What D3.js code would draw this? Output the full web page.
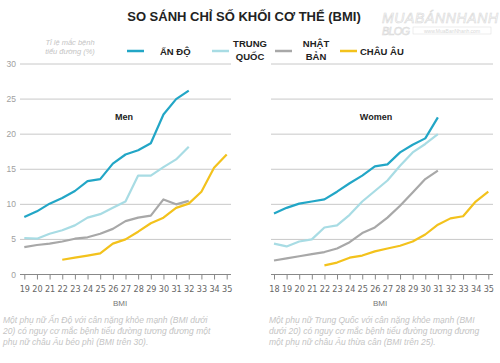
<!DOCTYPE html>
<html>
<head>
<meta charset="utf-8">
<script src="https://cdn.jsdelivr.net/npm/d3@7"></script>
<style>
  body { margin: 0; background: #fff; }
  svg { display: block; }
  text { font-family: "Liberation Sans", Arial, sans-serif; }
  .tick text { font-family: "Liberation Sans Narrow", "DejaVu Sans Condensed", "Liberation Sans", sans-serif; }
</style>
</head>
<body>
<div id="chart"></div>
<script>
// BMI tren truc x, ti le mac benh tieu duong (%) tren truc y
const menBmi = [19, 20, 21, 22, 23, 24, 25, 26, 27, 28, 29, 30, 31, 32, 33, 34, 35];
const menIndia = [8.2, 9.0, 10.1, 10.9, 11.9, 13.3, 13.6, 15.8, 17.1, 17.7, 18.7, 22.8, 25.0, 26.2];
const menChina = [5.2, 5.1, 5.8, 6.3, 7.0, 8.1, 8.6, 9.5, 10.4, 14.1, 14.1, 15.3, 16.4, 18.2];
const menJapan = [3.9, 4.2, 4.4, 4.7, 5.1, 5.3, 5.8, 6.5, 7.6, 8.1, 8.4, 10.7, 10.0, 10.5];
const menEurope = [null, null, null, 2.1, 2.4, 2.7, 3.0, 4.4, 5.0, 6.1, 7.3, 8.1, 9.5, 10.1, 11.8, 15.2, 17.1];

const womenBmi = [18, 19, 20, 21, 22, 23, 24, 25, 26, 27, 28, 29, 30, 31, 32, 33, 34, 35];
const womenIndia = [8.7, 9.5, 10.1, 10.4, 10.7, 11.8, 13.0, 14.1, 15.4, 15.7, 17.4, 18.5, 19.4, 22.4];
const womenChina = [4.4, 4.0, 4.7, 5.0, 6.7, 7.0, 8.5, 10.4, 11.9, 13.4, 15.5, 17.4, 18.6, 20.0];
const womenJapan = [2.0, 2.3, 2.6, 2.9, 3.2, 3.7, 4.6, 5.9, 6.7, 8.1, 9.8, 11.7, 13.6, 14.8];
const womenEurope = [null, null, null, null, 1.3, 1.7, 2.4, 2.7, 3.3, 3.7, 4.1, 4.7, 5.7, 7.1, 8.0, 8.3, 10.4, 11.8];

const seriesNames = ["ẤN ĐỘ", "TRUNG QUỐC", "NHẬT BẢN", "CHÂU ÂU"];
const seriesColors = ["#22a6c6", "#a8dce4", "#a8a8a8", "#f3c21c"];
const yTicks = [0, 5, 10, 15, 20, 25, 30];

const width = 500, height = 363;
const svg = d3.select("#chart").append("svg")
    .attr("width", width)
    .attr("height", height);

const y = d3.scaleLinear().domain([0, 30]).range([274.5, 64]);

// tieu de
svg.append("text")
    .attr("x", 244).attr("y", 21)
    .attr("text-anchor", "middle")
    .attr("font-size", "13px")
    .attr("font-weight", "bold")
    .attr("fill", "#222")
    .text("SO SÁNH CHỈ SỐ KHỐI CƠ THỂ (BMI)");

// watermark
svg.append("text")
    .attr("x", 382).attr("y", 23)
    .attr("font-size", "14px")
    .attr("font-style", "italic")
    .attr("textLength", 116)
    .attr("fill", "none")
    .attr("stroke", "#d8d8d8")
    .attr("stroke-width", 0.6)
    .text("MUABÁNNHANH");
svg.append("text")
    .attr("x", 382).attr("y", 35)
    .attr("font-size", "11px")
    .attr("font-style", "italic")
    .attr("textLength", 28)
    .attr("fill", "none")
    .attr("stroke", "#d8d8d8")
    .attr("stroke-width", 0.6)
    .text("BLOG");
svg.append("rect")
    .attr("x", 413).attr("y", 27).attr("width", 78).attr("height", 7)
    .attr("fill", "none").attr("stroke", "#e0e0e0").attr("stroke-width", 0.6);
svg.append("text")
    .attr("x", 452).attr("y", 33)
    .attr("text-anchor", "middle")
    .attr("font-size", "5px")
    .attr("fill", "#d8d8d8")
    .text("www.MuaBanNhanh.com");

// nhan truc y
svg.append("text")
    .attr("x", 70).attr("y", 45)
    .attr("text-anchor", "middle")
    .attr("font-size", "7.5px")
    .attr("font-style", "italic")
    .attr("fill", "#c4c4c4")
    .text("Tỉ lệ mắc bệnh");
svg.append("text")
    .attr("x", 70).attr("y", 54)
    .attr("text-anchor", "middle")
    .attr("font-size", "7.5px")
    .attr("font-style", "italic")
    .attr("fill", "#c4c4c4")
    .text("tiểu đường (%)");

// chu giai
const legendItems = [
    { x: 127, tx: 160, anchor: "start", lines: ["ẤN ĐỘ"] },
    { x: 212, tx: 250, anchor: "middle", lines: ["TRUNG", "QUỐC"] },
    { x: 275, tx: 316, anchor: "middle", lines: ["NHẬT", "BẢN"] },
    { x: 340, tx: 360, anchor: "start", lines: ["CHÂU ÂU"] }
];
legendItems.forEach((d, i) => {
    svg.append("line")
        .attr("x1", d.x).attr("x2", d.x + 17)
        .attr("y1", 51).attr("y2", 51)
        .attr("stroke", seriesColors[i])
        .attr("stroke-width", 2.5);
    const t = svg.append("text")
        .attr("text-anchor", d.anchor)
        .attr("font-size", "9.5px")
        .attr("font-weight", "bold")
        .attr("fill", "#222");
    if (d.lines.length === 1) {
        t.append("tspan").attr("x", d.tx).attr("y", 55).text(d.lines[0]);
    } else {
        t.append("tspan").attr("x", d.tx).attr("y", 47).text(d.lines[0]);
        t.append("tspan").attr("x", d.tx).attr("y", 60).text(d.lines[1]);
    }
});

function drawPanel(opts) {
    const x = d3.scaleLinear().domain(opts.domain).range(opts.range);
    const g = svg.append("g");

    // luoi ngang
    g.selectAll(".grid")
        .data(yTicks.filter(v => v > 0))
        .enter().append("line")
        .attr("class", "grid")
        .attr("x1", opts.gridX[0]).attr("x2", opts.gridX[1])
        .attr("y1", d => y(d)).attr("y2", d => y(d))
        .attr("stroke", "#c8c8c8")
        .attr("stroke-width", 1);

    if (opts.yLabels) {
        g.selectAll(".ylab")
            .data(yTicks)
            .enter().append("text")
            .attr("class", "ylab")
            .attr("x", 16).attr("y", d => y(d) + 3)
            .attr("text-anchor", "end")
            .attr("font-size", "8.5px")
            .attr("fill", "#a0a0a0")
            .attr("font-family", "'Liberation Sans Narrow', 'DejaVu Sans Condensed', sans-serif")
            .text(d => d);
    }

    // truc x
    g.append("line")
        .attr("x1", opts.gridX[0]).attr("x2", opts.gridX[1])
        .attr("y1", y(0)).attr("y2", y(0))
        .attr("stroke", "#888").attr("stroke-width", 1);
    const axis = g.append("g")
        .attr("transform", `translate(0,${y(0)})`)
        .call(d3.axisBottom(x).tickValues(opts.bmi).tickSize(5).tickPadding(6).tickFormat(d3.format("d")));
    axis.select(".domain").remove();
    axis.selectAll(".tick line").attr("stroke", "#888");
    axis.selectAll(".tick text").attr("font-size", "9px").attr("fill", "#666");

    g.append("text")
        .attr("x", opts.bmiLabelX).attr("y", 306)
        .attr("text-anchor", "middle")
        .attr("font-size", "8px")
        .attr("fill", "#777")
        .text("BMI");

    g.append("text")
        .attr("x", opts.titleX).attr("y", 120)
        .attr("text-anchor", "middle")
        .attr("font-size", "9px")
        .attr("font-weight", "bold")
        .attr("fill", "#222")
        .text(opts.title);

    const line = d3.line()
        .defined(d => d[1] != null)
        .x(d => x(d[0]))
        .y(d => y(d[1]));

    opts.series.forEach((vals, i) => {
        const pts = vals.map((v, j) => [opts.bmi[j], v]);
        g.append("path")
            .datum(pts)
            .attr("d", line)
            .attr("fill", "none")
            .attr("stroke", seriesColors[i])
            .attr("stroke-width", 2.2)
            .attr("stroke-linejoin", "round");
    });

    const note = g.append("text")
        .attr("font-size", "8.5px")
        .attr("font-style", "italic")
        .attr("fill", "#c4c4c4");
    opts.note.forEach((s, k) => {
        note.append("tspan").attr("x", opts.noteX).attr("y", 323 + k * 11).text(s);
    });
}

drawPanel({
    domain: [19, 35], range: [24.3, 226.7], gridX: [20, 231],
    bmi: menBmi, yLabels: true, bmiLabelX: 120, title: "Men", titleX: 124,
    series: [menIndia, menChina, menJapan, menEurope],
    noteX: 3,
    note: ["Một phụ nữ Ấn Độ với cân nặng khỏe mạnh (BMI dưới",
           "20) có nguy cơ mắc bệnh tiểu đường tương đương một",
           "phụ nữ châu Âu béo phì (BMI trên 30)."]
});

drawPanel({
    domain: [18, 35], range: [274, 488.3], gridX: [271, 493],
    bmi: womenBmi, yLabels: false, bmiLabelX: 380, title: "Women", titleX: 376,
    series: [womenIndia, womenChina, womenJapan, womenEurope],
    noteX: 269,
    note: ["Một phụ nữ Trung Quốc với cân nặng khỏe mạnh (BMI",
           "dưới 20) có nguy cơ mắc bệnh tiểu đường tương đương",
           "một phụ nữ châu Âu thừa cân (BMI trên 25)."]
});
</script>
</body>
</html>
